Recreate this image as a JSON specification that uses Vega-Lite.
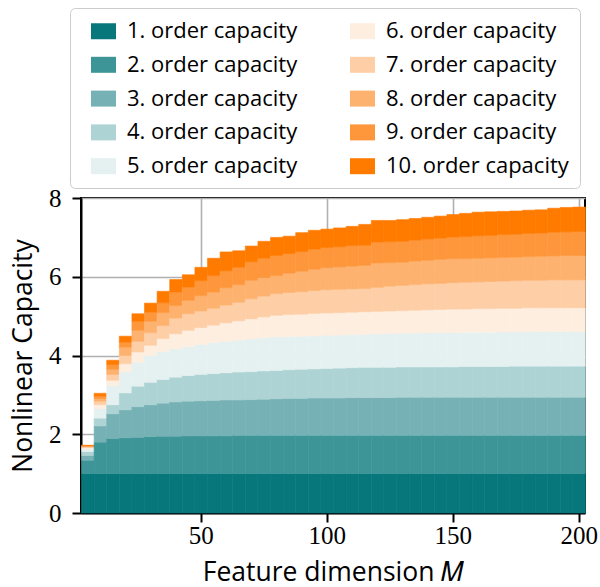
{
  "$schema": "https://vega.github.io/schema/vega-lite/v6.json",
  "autosize": {"type": "none"},
  "width": 504,
  "height": 315,
  "padding": {"left": 81, "top": 198, "right": 15, "bottom": 74},
  "background": "white",
  "config": {
    "view": {"stroke": "black", "strokeWidth": 2},
    "axis": {
      "zindex": 1,
      "grid": true,
      "gridColor": "#b0b0b0",
      "gridWidth": 1.6,
      "domainColor": "black",
      "domainWidth": 2,
      "tickColor": "black",
      "tickWidth": 2,
      "tickSize": 9,
      "labelFont": "Liberation Serif",
      "labelFontSize": 25,
      "labelColor": "black",
      "titleFont": "Open Sans",
      "titleFontSize": 26.5,
      "titleFontWeight": "normal",
      "titleColor": "black"
    }
  },
  "data": {
    "values": [
      {"M": 5, "c01": 1.00, "c02": 0.34, "c03": 0.12, "c04": 0.10, "c05": 0.07, "c06": 0.03, "c07": 0.02, "c08": 0.02, "c09": 0.01, "c10": 0.01},
      {"M": 10, "c01": 1.00, "c02": 0.80, "c03": 0.41, "c04": 0.20, "c05": 0.24, "c06": 0.10, "c07": 0.09, "c08": 0.07, "c09": 0.06, "c10": 0.07},
      {"M": 15, "c01": 1.00, "c02": 0.89, "c03": 0.63, "c04": 0.23, "c05": 0.49, "c06": 0.13, "c07": 0.15, "c08": 0.13, "c09": 0.12, "c10": 0.11},
      {"M": 20, "c01": 1.00, "c02": 0.91, "c03": 0.71, "c04": 0.43, "c05": 0.53, "c06": 0.21, "c07": 0.21, "c08": 0.21, "c09": 0.13, "c10": 0.15},
      {"M": 25, "c01": 1.00, "c02": 0.92, "c03": 0.78, "c04": 0.52, "c05": 0.61, "c06": 0.26, "c07": 0.27, "c08": 0.28, "c09": 0.23, "c10": 0.19},
      {"M": 30, "c01": 1.00, "c02": 0.94, "c03": 0.81, "c04": 0.57, "c05": 0.68, "c06": 0.26, "c07": 0.32, "c08": 0.29, "c09": 0.23, "c10": 0.23},
      {"M": 35, "c01": 1.00, "c02": 0.95, "c03": 0.84, "c04": 0.60, "c05": 0.71, "c06": 0.33, "c07": 0.33, "c08": 0.33, "c09": 0.25, "c10": 0.29},
      {"M": 40, "c01": 1.00, "c02": 0.95, "c03": 0.87, "c04": 0.63, "c05": 0.72, "c06": 0.38, "c07": 0.40, "c08": 0.32, "c09": 0.34, "c10": 0.32},
      {"M": 45, "c01": 1.00, "c02": 0.96, "c03": 0.88, "c04": 0.65, "c05": 0.73, "c06": 0.42, "c07": 0.42, "c08": 0.34, "c09": 0.34, "c10": 0.31},
      {"M": 50, "c01": 1.00, "c02": 0.96, "c03": 0.89, "c04": 0.67, "c05": 0.76, "c06": 0.43, "c07": 0.42, "c08": 0.39, "c09": 0.38, "c10": 0.34},
      {"M": 55, "c01": 1.00, "c02": 0.96, "c03": 0.90, "c04": 0.68, "c05": 0.79, "c06": 0.44, "c07": 0.43, "c08": 0.41, "c09": 0.42, "c10": 0.44},
      {"M": 60, "c01": 1.00, "c02": 0.96, "c03": 0.91, "c04": 0.69, "c05": 0.80, "c06": 0.47, "c07": 0.45, "c08": 0.44, "c09": 0.43, "c10": 0.48},
      {"M": 65, "c01": 1.00, "c02": 0.97, "c03": 0.90, "c04": 0.71, "c05": 0.81, "c06": 0.49, "c07": 0.47, "c08": 0.45, "c09": 0.44, "c10": 0.42},
      {"M": 70, "c01": 1.00, "c02": 0.97, "c03": 0.91, "c04": 0.71, "c05": 0.83, "c06": 0.51, "c07": 0.51, "c08": 0.47, "c09": 0.47, "c10": 0.40},
      {"M": 75, "c01": 1.00, "c02": 0.97, "c03": 0.92, "c04": 0.72, "c05": 0.84, "c06": 0.53, "c07": 0.53, "c08": 0.47, "c09": 0.49, "c10": 0.43},
      {"M": 80, "c01": 1.00, "c02": 0.97, "c03": 0.93, "c04": 0.72, "c05": 0.85, "c06": 0.55, "c07": 0.55, "c08": 0.46, "c09": 0.51, "c10": 0.46},
      {"M": 85, "c01": 1.00, "c02": 0.97, "c03": 0.94, "c04": 0.73, "c05": 0.84, "c06": 0.56, "c07": 0.56, "c08": 0.49, "c09": 0.50, "c10": 0.44},
      {"M": 90, "c01": 1.00, "c02": 0.97, "c03": 0.94, "c04": 0.74, "c05": 0.84, "c06": 0.56, "c07": 0.57, "c08": 0.52, "c09": 0.50, "c10": 0.48},
      {"M": 95, "c01": 1.00, "c02": 0.97, "c03": 0.95, "c04": 0.74, "c05": 0.84, "c06": 0.57, "c07": 0.58, "c08": 0.54, "c09": 0.51, "c10": 0.48},
      {"M": 100, "c01": 1.00, "c02": 0.97, "c03": 0.95, "c04": 0.75, "c05": 0.84, "c06": 0.57, "c07": 0.59, "c08": 0.56, "c09": 0.51, "c10": 0.47},
      {"M": 105, "c01": 1.00, "c02": 0.97, "c03": 0.95, "c04": 0.76, "c05": 0.84, "c06": 0.57, "c07": 0.59, "c08": 0.57, "c09": 0.51, "c10": 0.48},
      {"M": 110, "c01": 1.00, "c02": 0.97, "c03": 0.96, "c04": 0.76, "c05": 0.84, "c06": 0.57, "c07": 0.59, "c08": 0.58, "c09": 0.52, "c10": 0.49},
      {"M": 115, "c01": 1.00, "c02": 0.97, "c03": 0.96, "c04": 0.77, "c05": 0.84, "c06": 0.57, "c07": 0.59, "c08": 0.59, "c09": 0.51, "c10": 0.53},
      {"M": 120, "c01": 1.00, "c02": 0.97, "c03": 0.96, "c04": 0.77, "c05": 0.85, "c06": 0.57, "c07": 0.61, "c08": 0.62, "c09": 0.53, "c10": 0.55},
      {"M": 125, "c01": 1.00, "c02": 0.97, "c03": 0.96, "c04": 0.77, "c05": 0.86, "c06": 0.57, "c07": 0.63, "c08": 0.60, "c09": 0.53, "c10": 0.54},
      {"M": 130, "c01": 1.00, "c02": 0.97, "c03": 0.97, "c04": 0.77, "c05": 0.86, "c06": 0.57, "c07": 0.64, "c08": 0.59, "c09": 0.53, "c10": 0.55},
      {"M": 135, "c01": 1.00, "c02": 0.97, "c03": 0.97, "c04": 0.77, "c05": 0.86, "c06": 0.58, "c07": 0.65, "c08": 0.60, "c09": 0.53, "c10": 0.55},
      {"M": 140, "c01": 1.00, "c02": 0.97, "c03": 0.97, "c04": 0.77, "c05": 0.87, "c06": 0.58, "c07": 0.66, "c08": 0.60, "c09": 0.54, "c10": 0.55},
      {"M": 145, "c01": 1.00, "c02": 0.97, "c03": 0.97, "c04": 0.77, "c05": 0.87, "c06": 0.59, "c07": 0.66, "c08": 0.61, "c09": 0.54, "c10": 0.56},
      {"M": 150, "c01": 1.00, "c02": 0.97, "c03": 0.97, "c04": 0.77, "c05": 0.87, "c06": 0.60, "c07": 0.67, "c08": 0.61, "c09": 0.55, "c10": 0.57},
      {"M": 155, "c01": 1.00, "c02": 0.97, "c03": 0.97, "c04": 0.78, "c05": 0.87, "c06": 0.59, "c07": 0.68, "c08": 0.60, "c09": 0.56, "c10": 0.59},
      {"M": 160, "c01": 1.00, "c02": 0.97, "c03": 0.97, "c04": 0.78, "c05": 0.87, "c06": 0.60, "c07": 0.68, "c08": 0.60, "c09": 0.57, "c10": 0.60},
      {"M": 165, "c01": 1.00, "c02": 0.97, "c03": 0.97, "c04": 0.78, "c05": 0.87, "c06": 0.60, "c07": 0.69, "c08": 0.60, "c09": 0.57, "c10": 0.60},
      {"M": 170, "c01": 1.00, "c02": 0.97, "c03": 0.97, "c04": 0.78, "c05": 0.88, "c06": 0.60, "c07": 0.69, "c08": 0.60, "c09": 0.58, "c10": 0.59},
      {"M": 175, "c01": 1.00, "c02": 0.97, "c03": 0.97, "c04": 0.79, "c05": 0.87, "c06": 0.60, "c07": 0.70, "c08": 0.60, "c09": 0.58, "c10": 0.59},
      {"M": 180, "c01": 1.00, "c02": 0.97, "c03": 0.97, "c04": 0.79, "c05": 0.88, "c06": 0.60, "c07": 0.70, "c08": 0.60, "c09": 0.59, "c10": 0.59},
      {"M": 185, "c01": 1.00, "c02": 0.97, "c03": 0.97, "c04": 0.79, "c05": 0.88, "c06": 0.60, "c07": 0.70, "c08": 0.61, "c09": 0.59, "c10": 0.59},
      {"M": 190, "c01": 1.00, "c02": 0.97, "c03": 0.97, "c04": 0.79, "c05": 0.88, "c06": 0.60, "c07": 0.71, "c08": 0.61, "c09": 0.60, "c10": 0.61},
      {"M": 195, "c01": 1.00, "c02": 0.97, "c03": 0.97, "c04": 0.79, "c05": 0.88, "c06": 0.60, "c07": 0.71, "c08": 0.62, "c09": 0.60, "c10": 0.62},
      {"M": 200, "c01": 1.00, "c02": 0.97, "c03": 0.97, "c04": 0.79, "c05": 0.88, "c06": 0.60, "c07": 0.71, "c08": 0.62, "c09": 0.61, "c10": 0.62}
    ]
  },
  "transform": [
    {"fold": ["c01", "c02", "c03", "c04", "c05", "c06", "c07", "c08", "c09", "c10"], "as": ["order", "capacity"]}
  ],
  "mark": {"type": "bar", "binSpacing": 0, "strokeWidth": 0.6},
  "encoding": {
    "x": {
      "field": "M",
      "type": "quantitative",
      "bin": {"step": 5, "anchor": 2.5, "extent": [2.5, 202.5]},
      "scale": {"domain": [2.5, 202.5]},
      "axis": {"values": [50, 100, 150, 200], "title": "Feature dimension 𝑀", "titlePadding": 11, "labelPadding": 1, "labelFlush": false}
    },
    "y": {
      "field": "capacity",
      "type": "quantitative",
      "stack": "zero",
      "scale": {"domain": [0, 8], "nice": false},
      "axis": {"values": [0, 2, 4, 6, 8], "title": "Nonlinear Capacity", "titlePadding": 11, "labelPadding": 11, "labelFlush": false}
    },
    "order": {"field": "order", "type": "ordinal", "sort": "ascending"},
    "color": {
      "field": "order",
      "type": "nominal",
      "scale": {
        "domain": ["c01", "c02", "c03", "c04", "c05", "c06", "c07", "c08", "c09", "c10"],
        "range": ["#07777c", "#3d9597", "#76b1b6", "#aed3d4", "#e5f1f1", "#feeee0", "#fecfa6", "#feb26f", "#fe973b", "#ff7b00"]
      },
      "legend": {
        "title": null,
        "orient": "none",
        "legendX": -11,
        "legendY": -190,
        "columns": 2,
        "columnPadding": 42,
        "rowPadding": 9.8,
        "padding": 10.5,
        "labelExpr": "toNumber(substring(datum.label, 1)) + '. order capacity'",
        "labelFont": "Open Sans",
        "labelFontSize": 22,
        "labelLimit": 400,
        "labelColor": "black",
        "labelOffset": 11,
        "symbolOffset": 10.5,
        "symbolType": "M-1,-0.64H1V0.64H-1Z",
        "symbolSize": 625,
        "symbolStrokeWidth": 0,
        "symbolOpacity": 1,
        "strokeColor": "#cccccc",
        "cornerRadius": 5,
        "fillColor": "white"
      }
    },
    "stroke": {
      "field": "order",
      "type": "nominal",
      "scale": {
        "domain": ["c01", "c02", "c03", "c04", "c05", "c06", "c07", "c08", "c09", "c10"],
        "range": ["#07777c", "#3d9597", "#76b1b6", "#aed3d4", "#e5f1f1", "#feeee0", "#fecfa6", "#feb26f", "#fe973b", "#ff7b00"]
      },
      "legend": null
    }
  }
}
